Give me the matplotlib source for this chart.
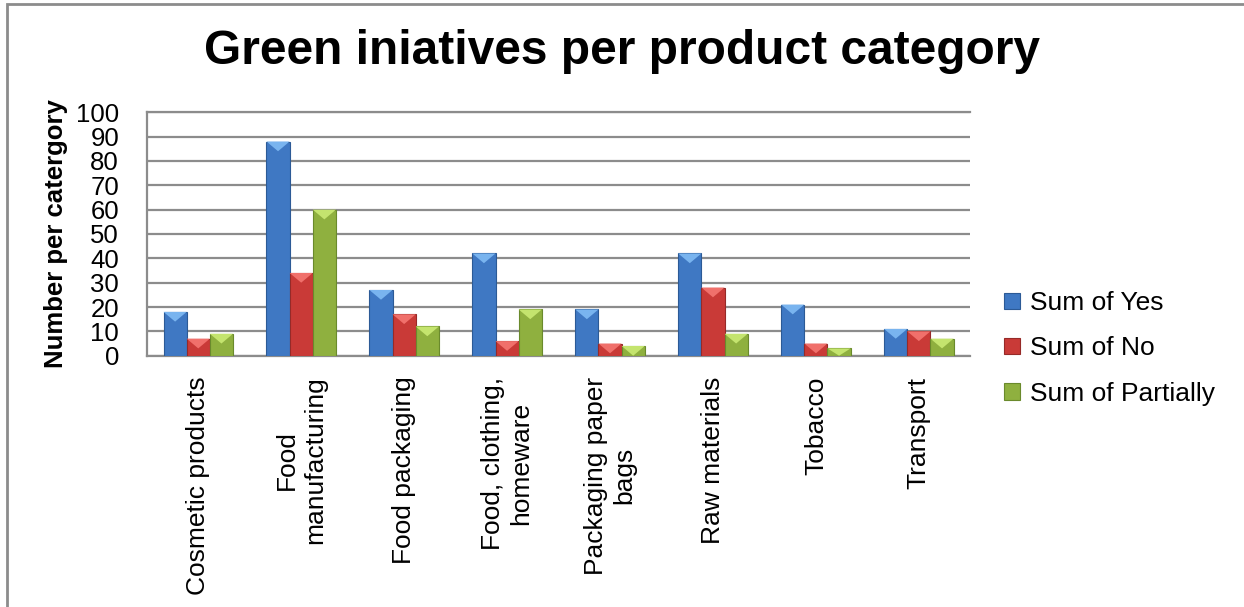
import numpy as np
import matplotlib
matplotlib.use('Agg')
import matplotlib.pyplot as plt
from matplotlib.patches import Polygon, Rectangle

plt.rcParams['font.family'] = ['Liberation Sans', 'DejaVu Sans']

categories = ['Cosmetic products', 'Food\nmanufacturing', 'Food packaging',
              'Food, clothing,\nhomeware', 'Packaging paper\nbags', 'Raw materials',
              'Tobacco', 'Transport']
yes_vals = [18, 88, 27, 42, 19, 42, 21, 11]
no_vals = [7, 34, 17, 6, 5, 28, 5, 10]
partial_vals = [9, 60, 12, 19, 4, 9, 3, 7]
series_names = ['Sum of Yes', 'Sum of No', 'Sum of Partially']
yticks = list(range(0, 101, 10))

colors = ['#3f78c3', '#c93a37', '#8fb03f']
light = ['#79b4ef', '#f0706b', '#c4e46e']
edges = ['#2c5a96', '#962a28', '#6a8a2c']

fig = plt.figure(figsize=(12.44, 6.07), dpi=100)
ax = fig.add_axes([0.118, 0.414, 0.662, 0.401])

# outer frame of the chart
fig.patches.append(Rectangle((7 / 1244, -0.1), 1.2, 1.1 - 4 / 607, transform=fig.transFigure,
                             fill=False, edgecolor='#8c8c8c', linewidth=2))

x = np.arange(len(categories))
w = 0.225
all_vals = [yes_vals, no_vals, partial_vals]
for i, vals in enumerate(all_vals):
    pos = x + (i - 1) * w
    bars = ax.bar(pos, vals, w, color=colors[i], edgecolor=edges[i], linewidth=0.8,
                  label=series_names[i], zorder=3)
    # small lighter chevron at top of each bar (3D look)
    for b in bars:
        x0 = b.get_x()
        h = b.get_height()
        th = min(4.0, h)
        tri = Polygon([[x0, h], [x0 + w, h], [x0 + w / 2, h - th]], closed=True,
                      facecolor=light[i], edgecolor='none', zorder=4)
        ax.add_patch(tri)

ax.set_xlim(-0.5, len(categories) - 0.5)
ax.set_ylim(0, 100)
ax.set_yticks(yticks)
ax.set_yticklabels([str(t) for t in yticks], fontsize=18.5)
ax.set_xticks(x)
ax.set_xticklabels(categories, rotation=90, fontsize=19, va='top', ha='center',
                   multialignment='center')
ax.tick_params(axis='both', length=0)
ax.tick_params(axis='y', pad=20)
ax.tick_params(axis='x', pad=15)

ax.yaxis.grid(True, color='#8c8c8c', linewidth=1.6, zorder=0)
ax.set_axisbelow(True)
for s in ['left', 'bottom', 'top']:
    ax.spines[s].set_color('#8c8c8c')
    ax.spines[s].set_linewidth(1.6)
ax.spines['right'].set_visible(False)

ax.set_ylabel('Number per catergory', fontsize=18.5, fontweight='bold', labelpad=6)

fig.text(0.5, 1 - 52 / 607, 'Green iniatives per product category', fontsize=34.5,
         fontweight='bold', ha='center', va='center')

leg = ax.legend(loc='center left', bbox_to_anchor=(1.012, 0.03), frameon=False,
                fontsize=19, handlelength=0.6, handleheight=0.6, handletextpad=0.4,
                labelspacing=0.8)

fig.savefig('out.png', dpi=100)
